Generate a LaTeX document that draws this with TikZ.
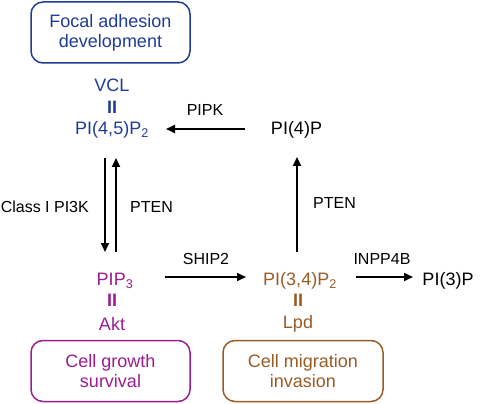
\documentclass[tikz,border=0pt]{standalone}
\usepackage{fontspec}
\setmainfont{Liberation Sans}
\usetikzlibrary{arrows.meta}
\definecolor{cblue}{HTML}{1F3C96}
\definecolor{cpurple}{HTML}{9C1D8E}
\definecolor{cbrown}{HTML}{9A5B25}
\newcommand{\sbs}[1]{\textsubscript{#1}}
\begin{document}
\begin{tikzpicture}[x=1pt,y=-1pt,
  big/.style={font=\fontsize{18}{20}\selectfont, inner sep=0pt},
  lbl/.style={font=\fontsize{16}{18}\selectfont, inner sep=0pt},
  bind/.style={font=\fontsize{18}{20}\selectfont\bfseries, inner sep=0pt},
  outbox/.style={draw, rounded corners=12pt, line width=1.5pt, minimum width=159pt, minimum height=61pt, align=center, font=\fontsize{18}{20}\selectfont},
  arr/.style={line width=2pt, -{Triangle[length=9pt,width=8pt]}}
]
\useasboundingbox (0,0) rectangle (480,404);
% top
\node[outbox, draw=cblue, text=cblue] (fa) at (110.5,32.5) {Focal adhesion\\development};
\node[big, text=cblue] (vcl) at (112,85) {VCL};
\node[bind, text=cblue] (b1) at (112,107) {II};
\node[big, text=cblue] (pi45) at (112,130) {PI(4,5)P\sbs{2}};
\node[big] (pi4p) at (296.5,130) {PI(4)P};
% bottom
\node[big, text=cpurple] (pip3) at (115,281) {PIP\sbs{3}};
\node[bind, text=cpurple] (b2) at (112,300) {II};
\node[big, text=cpurple] (akt) at (112,324) {Akt};
\node[big, text=cbrown] (pi34) at (300,281) {PI(3,4)P\sbs{2}};
\node[bind, text=cbrown] (b3) at (298,300) {II};
\node[big, text=cbrown] (lpd) at (298,324) {Lpd};
\node[big] (pi3p) at (448,281) {PI(3)P};
\node[outbox, draw=cpurple, text=cpurple] (cg) at (110.5,371) {Cell growth\\survival};
\node[outbox, draw=cbrown, text=cbrown, minimum width=160pt] (cm) at (303,371) {Cell migration\\invasion};
% coordinates for arrow ends
\coordinate (a1s) at (245,129); \coordinate (a1e) at (166,129);
\coordinate (d1s) at (105,158); \coordinate (d1e) at (105,252);
\coordinate (u1s) at (116,252); \coordinate (u1e) at (116,158);
\coordinate (s1s) at (165,277); \coordinate (s1e) at (246,277);
\coordinate (i1s) at (356,277); \coordinate (i1e) at (413,277);
\coordinate (p1s) at (297,252); \coordinate (p1e) at (297,157);
\draw[arr] (a1s) -- (a1e);
\draw[arr] (d1s) -- (d1e);
\draw[arr] (u1s) -- (u1e);
\draw[arr] (s1s) -- (s1e);
\draw[arr] (i1s) -- (i1e);
\draw[arr] (p1s) -- (p1e);
% labels
\node[lbl] (l1) at (205,110) {PIPK};
\node[lbl, anchor=east] (l2) at (89,207) {Class I PI3K};
\node[lbl, anchor=west] (l3) at (130,207) {PTEN};
\node[lbl] (l4) at (206,259) {SHIP2};
\node[lbl] (l5) at (382,259) {INPP4B};
\node[lbl, anchor=west] (l6) at (313,203) {PTEN};
\end{tikzpicture}
\end{document}
